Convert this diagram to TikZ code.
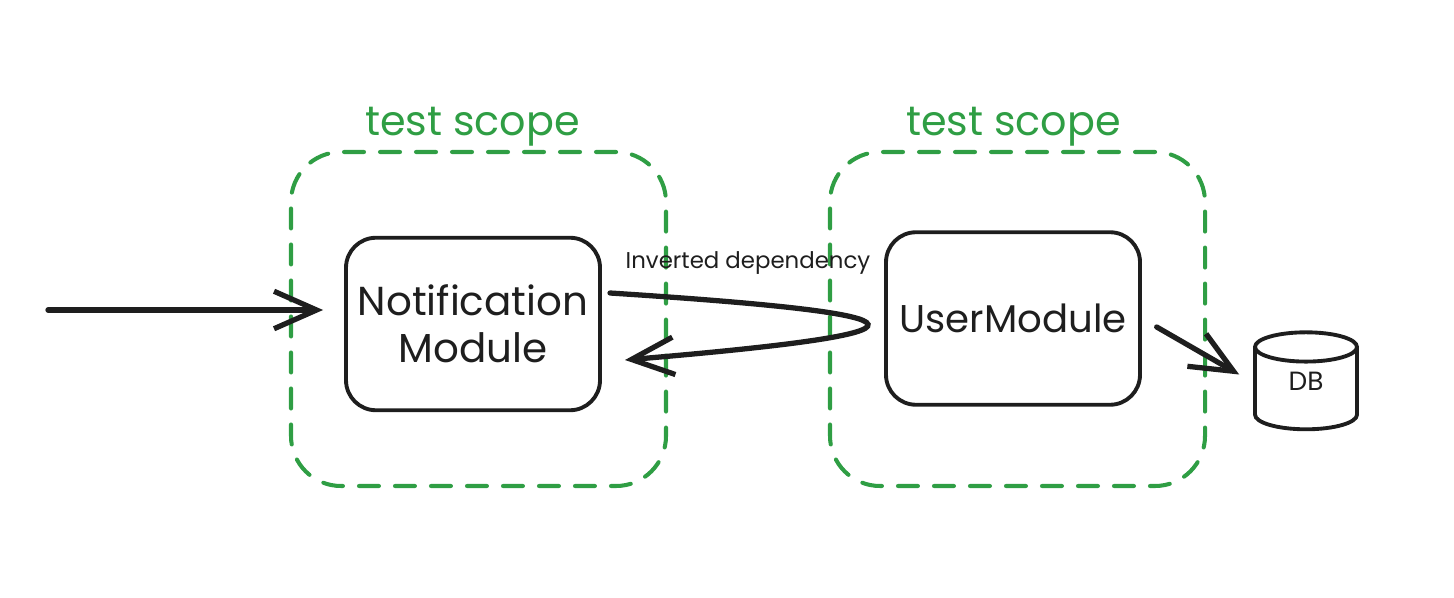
\documentclass[tikz,border=0pt]{standalone}
\usepackage{fontspec}
\setmainfont{Poppins}
\usepackage{tikz}
\usetikzlibrary{positioning, arrows.meta, shapes.geometric}
\definecolor{scopegreen}{HTML}{2F9E44}
\definecolor{ink}{HTML}{1E1E1E}

\begin{document}
\begin{tikzpicture}[
    scope box/.style={draw=scopegreen, line width=2.3pt, dash pattern=on 0.4cm off 0.32cm,
        line cap=round, rounded corners=1cm, minimum width=7.5cm, minimum height=6.68cm},
    scope label/.style={text=scopegreen, font=\fontsize{23.5}{30}\selectfont},
    module/.style={draw=ink, line width=2.2pt, rounded corners=0.6cm, minimum width=5.08cm,
        minimum height=3.45cm, align=center, text=ink, font=\fontsize{23}{27}\selectfont},
    arrow/.style={draw=ink, line width=3pt, line cap=round,
        -{Straight Barb[length=0.85cm, width=0.75cm, line width=3pt]}}
    ]
    \useasboundingbox (0,0) rectangle (29.08,-11.96);
    %\draw (0,-12) grid (29,0);

    % the two test scopes
    \node[scope box, label={[scope label, yshift=-0.05cm, xshift=-0.12cm]above:test scope}] (scopeL) at (9.57,-6.38) {};
    \node[scope box, label={[scope label, yshift=-0.05cm, xshift=-0.08cm]above:test scope}] (scopeR) at (20.35,-6.38) {};

    % modules
    \node[module] (notif) at (9.46,-6.48) {Notification\\Module};
    \node[module, font=\fontsize{22}{27}\selectfont] (user) at (20.26,-6.37) {UserModule};
    \node[cylinder, shape border rotate=90, aspect=2.5, draw=ink, line width=2.2pt,
        minimum width=2.04cm, minimum height=1.94cm,
        label={[text=ink, font=\fontsize{15}{17}\selectfont, yshift=0.22cm]center:DB}] (db) at (26.12,-7.85) {};

    % incoming call
    \coordinate (in) at (0.96,-6.2);
    \draw[arrow, shorten >=0.42cm] (in) -- (in -| notif.west);

    % inverted dependency
    \coordinate (depA) at (12.2,-5.86);
    \coordinate (depB) at (12.5,-7.2);
    \draw[arrow] (depA) .. controls (19.0,-6.3) and (19.0,-6.65) .. (depB);
    \node[text=ink, font=\fontsize{13}{15}\selectfont] (deplabel) at (14.96,-5.26) {Inverted dependency};

    % user module to database
    \draw[arrow, shorten <=0.34cm, shorten >=0.32cm] (user.east) -- ([yshift=0.2cm]db.west);
\end{tikzpicture}
\end{document}
